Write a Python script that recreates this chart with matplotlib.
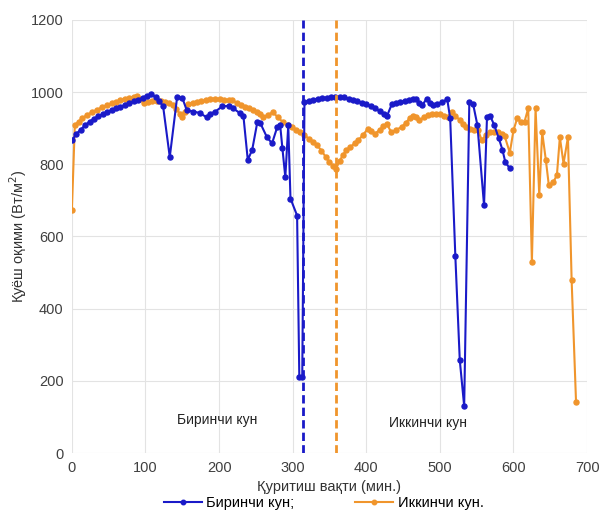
import matplotlib

matplotlib.use("Agg")
import matplotlib.pyplot as plt

plt.rcParams["font.family"] = ["Liberation Sans", "DejaVu Sans"]

# Day 1 (blue) - time in minutes, solar flux in W/m2
day1_t = [0, 6, 12, 18, 24, 30, 36, 42, 48, 54, 60, 66, 72, 78, 84, 90, 96, 102,
          108, 114, 119, 124, 133, 143, 150, 156, 165, 174, 183, 188, 195, 204,
          213, 219, 228, 233, 239, 245, 252, 256, 265, 272, 279, 283, 286, 290,
          294, 297, 306, 309, 313, 316, 322, 328, 334, 340, 346, 352, 358, 364,
          370, 376, 382, 388, 394, 400, 406, 412, 418, 424, 428, 435, 441, 446,
          452, 458, 463, 467, 472, 476, 482, 486, 490, 496, 503, 510, 514, 521,
          527, 533, 540, 545, 551, 560, 564, 568, 574, 580, 585, 589, 595]
day1_q = [866, 884, 896, 908, 918, 926, 933, 939, 945, 950, 955, 959, 964, 969,
          975, 979, 984, 990, 995, 985, 975, 960, 820, 986, 984, 950, 946, 942,
          930, 940, 946, 960, 962, 955, 942, 935, 812, 840, 917, 914, 875, 858,
          903, 908, 845, 764, 908, 705, 658, 211, 211, 972, 976, 979, 981, 983,
          984, 985, 986, 986, 985, 982, 978, 975, 971, 967, 961, 955, 947, 938,
          933, 968, 970, 972, 975, 977, 980, 982, 970, 963, 982, 970, 963, 968,
          972, 980, 927, 545, 258, 130, 972, 968, 908, 686, 930, 935, 908, 872,
          840, 805, 789]

# Day 2 (orange)
day2_t = [0, 4, 9, 14, 20, 27, 34, 41, 48, 54, 60, 66, 72, 78, 84, 88, 93, 98,
          104, 109, 115, 121, 127, 132, 137, 142, 147, 150, 154, 158, 164, 170,
          176, 182, 188, 195, 201, 207, 213, 218, 224, 230, 235, 241, 246, 251,
          256, 260, 266, 273, 280, 287, 293, 299, 305, 310, 316, 322, 327, 333,
          339, 345, 350, 355, 359, 364, 368, 373, 378, 384, 389, 395, 402, 407,
          412, 418, 423, 428, 434, 440, 448, 454, 459, 463, 468, 472, 478, 484,
          489, 495, 500, 506, 511, 516, 521, 527, 532, 536, 541, 546, 552, 557,
          562, 568, 573, 579, 584, 588, 595, 600, 605, 610, 615, 620, 625, 630,
          635, 639, 644, 648, 654, 659, 663, 668, 674, 679, 685]
day2_q = [672, 908, 918, 927, 936, 944, 951, 958, 964, 969, 973, 977, 981, 984,
          986, 988, 980, 970, 972, 975, 975, 976, 973, 970, 965, 952, 940, 930,
          945, 968, 970, 972, 974, 977, 980, 982, 980, 978, 978, 977, 970, 964,
          958, 955, 950, 945, 938, 930, 937, 944, 930, 916, 909, 902, 895, 889,
          880, 871, 863, 853, 838, 820, 806, 795, 788, 810, 825, 840, 847, 858,
          866, 880, 898, 892, 885, 895, 905, 912, 888, 895, 903, 915, 928, 935,
          930, 922, 930, 936, 940, 938, 940, 935, 931, 944, 935, 922, 912, 903,
          898, 896, 894, 866, 880, 890, 889, 889, 884, 878, 832, 894, 927, 916,
          918, 955, 529, 955, 714, 889, 811, 742, 750, 770, 875, 802, 875, 479,
          141]

day1_end = 314
day2_end = 359

BLUE = "#1a1ac8"
ORANGE = "#f0952c"

fig = plt.figure(figsize=(6.04, 5.22), dpi=100)
ax = fig.add_axes([0.119, 0.132, 0.853, 0.830])

ax.plot(day1_t, day1_q, color=BLUE, marker="o", markersize=3.6, linewidth=1.5,
        label="Биринчи кун;", zorder=3)
ax.plot(day2_t, day2_q, color=ORANGE, marker="o", markersize=3.6, linewidth=1.5,
        label="Иккинчи кун.", zorder=2)

ax.axvline(day1_end, color=BLUE, linestyle=(0, (3, 1.5)), linewidth=2.0, zorder=4)
ax.axvline(day2_end, color=ORANGE, linestyle=(0, (3, 1.5)), linewidth=2.0, zorder=4)

ax.text(198, 92, "Биринчи кун", ha="center", va="center", fontsize=10, color="#222222")
ax.text(484, 83, "Иккинчи кун", ha="center", va="center", fontsize=10, color="#222222")

ax.set_xlim(0, 700)
ax.set_ylim(0, 1200)
ax.set_xticks(range(0, 701, 100))
ax.set_yticks(range(0, 1201, 200))
ax.grid(True, color="#e3e3e3", linewidth=0.8)
ax.set_axisbelow(True)
for s in ax.spines.values():
    s.set_visible(False)
ax.tick_params(length=0, labelsize=10.5, labelcolor="#404040", pad=6)

ax.set_xlabel("Қуритиш вақти (мин.)", fontsize=10.5, color="#333333", labelpad=3)
ax.set_ylabel("Қуёш оқими (Вт/м$^{2}$)", fontsize=10.5, color="#333333", labelpad=1)

fig.legend(loc="center", bbox_to_anchor=(0.536, 0.036), ncol=2, frameon=False,
           fontsize=10.5, handlelength=2.6, columnspacing=4.2, handletextpad=0.3,
           markerscale=0.9)

fig.savefig("out.png", dpi=100)
